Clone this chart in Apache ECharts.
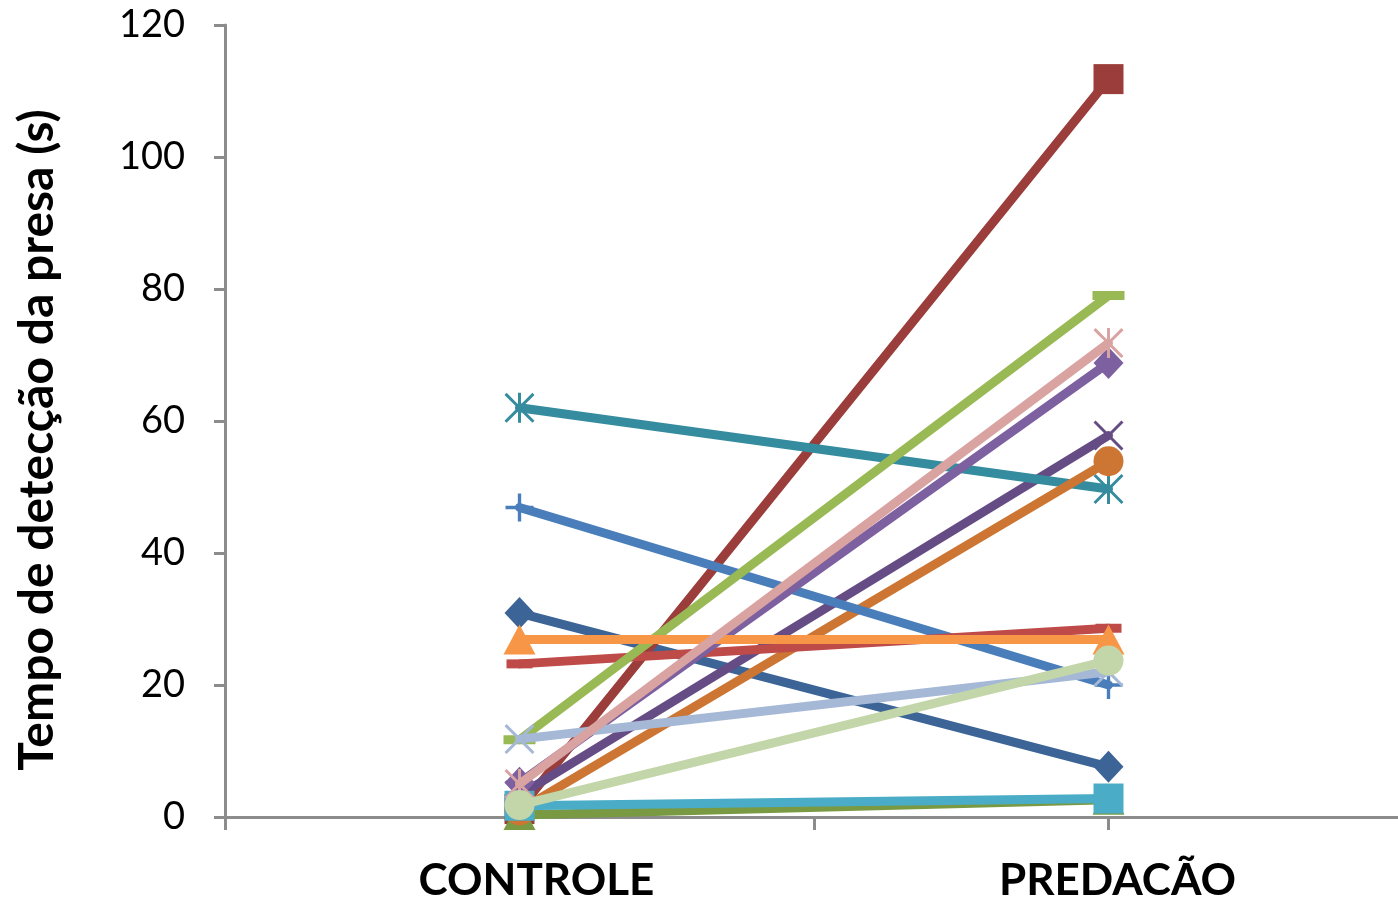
<!DOCTYPE html>
<html>
<head>
<meta charset="utf-8">
<script src="https://cdn.jsdelivr.net/npm/echarts@6/dist/echarts.min.js"></script>
<style>
html,body{margin:0;padding:0;background:#fff;overflow:hidden;width:1398px;height:899px;}
#chart{width:1410px;height:899px;}
</style>
</head>
<body>
<div id="chart"></div>
<script>
// ---- data ----
const categories = ['CONTROLE', 'PREDACÃO'];
const categoryPositions = [1, 3];
const yTicks = [0, 20, 40, 60, 80, 100, 120];
const yTitle = 'Tempo de detecção da presa (s)';

const s1 = [30.9, 7.6];
const s2 = [1.2, 111.8];
const s3 = [0.3, 2.6];
const s4 = [3.3, 57.8];
const s5 = [62.0, 49.7];
const s6 = [1.0, 53.9];
const s7 = [46.9, 20.0];
const s8 = [23.2, 28.6];
const s9 = [11.7, 79.0];
const s10 = [5.2, 68.8];
const s11 = [1.7, 2.8];
const s12 = [26.9, 26.9];
const s13 = [11.8, 22.0];
const s14 = [5.0, 71.8];
const s15 = [1.8, 23.7];

const seriesValues = [s1, s2, s3, s4, s5, s6, s7, s8, s9, s10, s11, s12, s13, s14, s15];

// ---- styles ----
const X_PATH = 'path://M0,7 L7,0 L50,43 L93,0 L100,7 L57,50 L100,93 L93,100 L50,57 L7,100 L0,93 L43,50 Z';
const STAR_PATH = 'path://M0,7 L7,0 L45,38 L45,0 L55,0 L55,38 L93,0 L100,7 L57,50 L100,93 L93,100 L55,62 L55,100 L45,100 L45,62 L7,100 L0,93 L43,50 Z';
const PLUS_PATH = 'path://M44,0 L56,0 L56,44 L100,44 L100,56 L56,56 L56,100 L44,100 L44,56 L0,56 L0,44 L44,44 Z';

const styles = [
  {c:'#3C6496', s:'diamond', z:[30,32]},
  {c:'#9B3D3A', s:'rect', z:[30,30]},
  {c:'#799A43', s:'triangle', z:[32,30]},
  {c:'#664C85', s:X_PATH, z:[30,30]},
  {c:'#368C9F', s:STAR_PATH, z:[30,30]},
  {c:'#CD7532', s:'circle', z:[30,30]},
  {c:'#4A7EBB', s:PLUS_PATH, z:[28,28]},
  {c:'#BE4B48', s:'rect', z:[26,9]},
  {c:'#98B954', s:'rect', z:[32,9]},
  {c:'#7D60A0', s:'diamond', z:[30,32]},
  {c:'#4AACC6', s:'rect', z:[30,30]},
  {c:'#F79646', s:'triangle', z:[32,30]},
  {c:'#A5B8D6', s:X_PATH, z:[30,30]},
  {c:'#D9A3A1', s:STAR_PATH, z:[30,30]},
  {c:'#C3D6A9', s:'circle', z:[30,30]}
];

const series = seriesValues.map((vals, i) => ({
  type: 'line',
  name: 'S' + (i + 1),
  data: vals.map((v, k) => [categoryPositions[k], v]),
  symbol: styles[i].s,
  symbolSize: styles[i].z,
  symbolKeepAspect: false,
  clip: false,
  z: 2 + i * 0.01,
  lineStyle: {color: styles[i].c, width: 9, cap: 'round', join: 'round'},
  itemStyle: {color: styles[i].c, borderWidth: 0, opacity: 1},
  emphasis: {disabled: true},
  animation: false
}));

const chart = echarts.init(document.getElementById('chart'), null, {renderer: 'canvas'});
chart.setOption({
  backgroundColor: '#ffffff',
  animation: false,
  grid: {left: 225, top: 25, right: 7, bottom: 82, containLabel: false, outerBoundsMode: 'none'},
  xAxis: {
    type: 'value',
    min: 0, max: 4, interval: 1,
    axisLine: {show: true, lineStyle: {color: '#8C8C8C', width: 3}},
    axisTick: {show: true, length: 13, lineStyle: {color: '#8C8C8C', width: 3}},
    splitLine: {show: false},
    axisLabel: {
      margin: 42,
      color: '#000',
      formatter: function (v) {
        const idx = categoryPositions.indexOf(v);
        if (idx < 0) return '';
        return '{' + (idx === 0 ? 'a' : 'b') + '|' + categories[idx] + '}';
      },
      rich: {
        a: {fontFamily: 'Lato', fontWeight: 'bold', fontSize: 44, color: '#000', padding: [0, 0, 0, 34]},
        b: {fontFamily: 'Lato', fontWeight: 'bold', fontSize: 44, color: '#000', padding: [0, 0, 0, 18]}
      }
    }
  },
  yAxis: {
    type: 'value',
    min: yTicks[0], max: yTicks[yTicks.length - 1], interval: yTicks[1] - yTicks[0],
    axisLine: {show: true, lineStyle: {color: '#8C8C8C', width: 3}},
    axisTick: {show: true, length: 11, lineStyle: {color: '#8C8C8C', width: 3}},
    splitLine: {show: false},
    axisLabel: {margin: 40, fontFamily: 'Lato', fontSize: 38, color: '#000'}
  },
  graphic: [{
    type: 'text',
    x: 38, y: 440,
    rotation: Math.PI / 2,
    style: {
      text: yTitle,
      fontFamily: 'Lato', fontWeight: 'bold', fontSize: 48,
      fill: '#000', align: 'center', verticalAlign: 'middle'
    }
  }],
  series: series
});
</script>
</body>
</html>
